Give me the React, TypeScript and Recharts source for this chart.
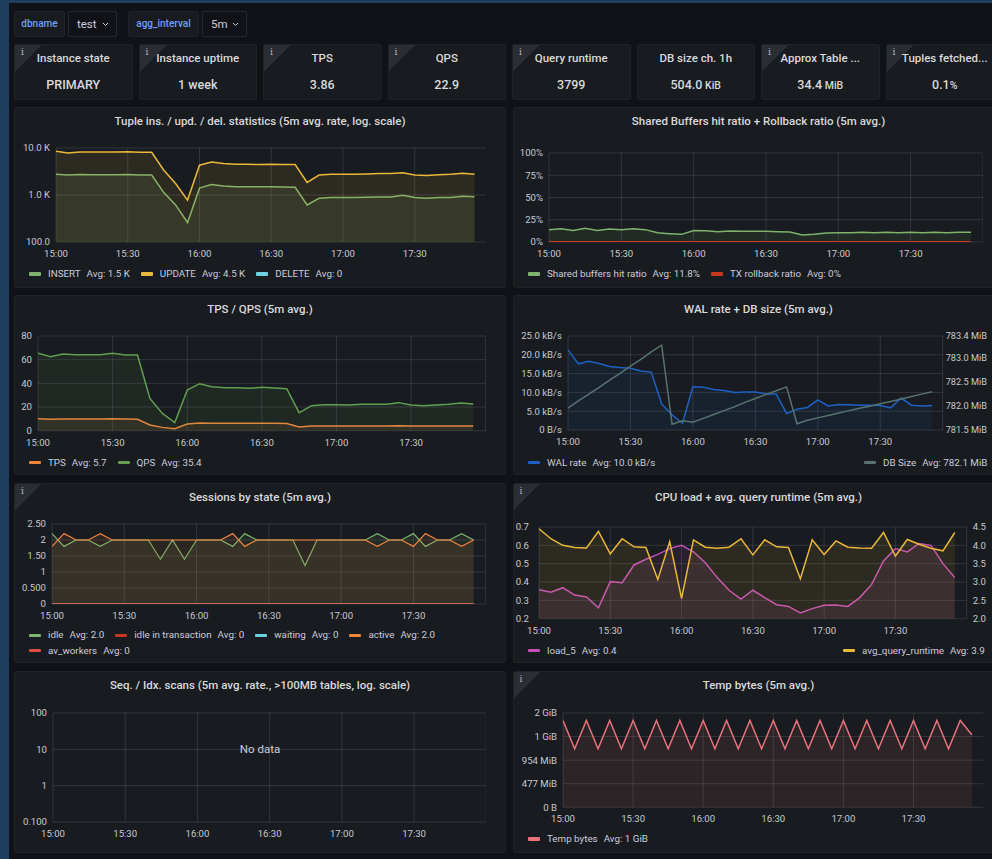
import React from 'react';
import { ComposedChart, Area, Line, XAxis, YAxis, CartesianGrid } from 'recharts';

const FONT = 'Roboto, "Noto Sans", "DejaVu Sans", sans-serif';
const PAGE_BG = '#111217';
const PANEL_BG = '#181b1f';
const EDGE_BLUE = '#1f3e5c';
const GRID = 'rgba(204,204,220,0.15)';
const TEXT = '#ccccdc';
const TITLE = '#d8d9da';
const TICK = '#c8c9d3';

// ---------- variables row ----------
const variableNames = ['dbname', 'agg_interval'];
const variableValues = ['test', '5m'];

// ---------- stat row ----------
const statTitles = ['Instance state', 'Instance uptime', 'TPS', 'QPS', 'Query runtime', 'DB size ch. 1h', 'Approx Table ...', 'Tuples fetched...'];
const statValues = ['PRIMARY', '1 week', '3.86', '22.9', '3799', '504.0', '34.4', '0.1'];
const statUnits = ['', '', '', '', '', ' KiB', ' MiB', '%'];
const statInfo = [true, true, true, true, true, false, true, true];

// ---------- time axis ----------
const timeMinutes = [0, 5, 10, 15, 20, 25, 30, 35, 40, 45, 50, 55, 60, 65, 70, 75, 80, 85, 90, 95, 100, 105, 110, 115, 120, 125, 130, 135, 140, 145, 150, 155, 160, 165, 170, 175];
const xTicks = [0, 30, 60, 90, 120, 150];
const xTickLabels = ['15:00', '15:30', '16:00', '16:30', '17:00', '17:30'];

// ---------- panel titles ----------
const panelTitles = [
  'Tuple ins. / upd. / del. statistics (5m avg. rate, log. scale)',
  'Shared Buffers hit ratio + Rollback ratio (5m avg.)',
  'TPS / QPS (5m avg.)',
  'WAL rate + DB size (5m avg.)',
  'Sessions by state (5m avg.)',
  'CPU load + avg. query runtime (5m avg.)',
  'Seq. / Idx. scans (5m avg. rate., >100MB tables, log. scale)',
  'Temp bytes (5m avg.)',
];

// ---------- tuple stats ----------
const insertVals = [2780, 2650, 2720, 2700, 2700, 2700, 2720, 2680, 2650, 1140, 615, 260, 1400, 1680, 1550, 1500, 1500, 1490, 1500, 1480, 1460, 615, 850, 890, 890, 880, 900, 910, 910, 990, 880, 850, 880, 890, 940, 920];
const updateVals = [8500, 7800, 8200, 8200, 8200, 8200, 8300, 8100, 8100, 3400, 1760, 780, 4300, 5060, 4660, 4520, 4520, 4450, 4520, 4450, 4450, 1850, 2650, 2780, 2780, 2750, 2800, 2850, 2850, 2970, 2650, 2600, 2700, 2750, 2900, 2780];
const deleteVals = [0, 0, 0, 0, 0, 0, 0, 0, 0, 0, 0, 0, 0, 0, 0, 0, 0, 0, 0, 0, 0, 0, 0, 0, 0, 0, 0, 0, 0, 0, 0, 0, 0, 0, 0, 0];
const tupleTicks = [100, 1000, 10000];
const tupleTickLabels = ['100.0', '1.0 K', '10.0 K'];
const tupleLegendNames = ['INSERT', 'UPDATE', 'DELETE'];
const tupleLegendAvg = ['Avg: 1.5 K', 'Avg: 4.5 K', 'Avg: 0'];

// ---------- shared buffers ----------
const hitRatioVals = [13.9, 15.0, 13.0, 15.4, 13.0, 14.6, 13.9, 15.0, 13.9, 10.5, 9.4, 8.6, 13.0, 12.7, 11.6, 12.4, 12.0, 12.0, 12.0, 11.6, 11.2, 7.9, 8.6, 10.1, 10.5, 10.5, 10.9, 10.5, 10.9, 10.5, 10.9, 10.5, 10.9, 10.5, 10.9, 10.9];
const rollbackVals = [0, 0, 0, 0, 0, 0, 0, 0, 0, 0, 0, 0, 0, 0, 0, 0, 0, 0, 0, 0, 0, 0, 0, 0, 0, 0, 0, 0, 0, 0, 0, 0, 0, 0, 0, 0];
const pctTicks = [0, 25, 50, 75, 100];
const sharedLegendNames = ['Shared buffers hit ratio', 'TX rollback ratio'];
const sharedLegendAvg = ['Avg: 11.8%', 'Avg: 0%'];

// ---------- TPS / QPS ----------
const tpsVals = [10.1, 9.6, 9.9, 9.9, 9.9, 9.9, 10.0, 9.8, 9.6, 4.8, 2.8, 1.7, 5.6, 6.5, 6.2, 6.2, 6.2, 6.2, 6.2, 6.2, 6.1, 3.1, 3.9, 3.9, 3.9, 3.9, 3.9, 4.0, 4.0, 4.2, 3.9, 3.9, 3.9, 3.9, 3.9, 3.9];
const qpsVals = [65.4, 62.5, 64.8, 64.2, 64.2, 64.2, 65.4, 64.0, 64.0, 27.3, 14.6, 6.8, 34.4, 39.7, 37.2, 36.3, 36.3, 35.8, 36.6, 36.0, 35.5, 15.2, 21.1, 22.0, 22.0, 21.7, 22.3, 22.3, 22.3, 23.7, 21.7, 21.1, 21.7, 22.3, 23.4, 22.5];
const tpsTicks = [0, 20, 40, 60, 80];
const tpsLegendNames = ['TPS', 'QPS'];
const tpsLegendAvg = ['Avg: 5.7', 'Avg: 35.4'];

// ---------- WAL / DB size ----------
const walVals = [21.3, 17.6, 18.3, 17.7, 16.9, 16.6, 16.4, 15.7, 15.4, 6.9, 4.0, 1.8, 11.5, 11.4, 10.8, 10.5, 10.0, 10.1, 10.1, 9.6, 9.6, 4.4, 5.5, 6.0, 8.0, 6.4, 6.8, 6.7, 6.6, 6.6, 6.5, 5.9, 8.5, 6.6, 6.4, 6.5];
const dbSizeVals = [781.95, 782.10, 782.24, 782.38, 782.53, 782.67, 782.82, 782.96, 783.11, 783.25, 781.62, 781.69, 781.66, 781.74, 781.82, 781.90, 781.98, 782.07, 782.15, 782.23, 782.31, 782.39, 781.63, 781.70, 781.75, 781.80, 781.85, 781.90, 781.95, 781.99, 782.04, 782.09, 782.14, 782.19, 782.24, 782.29];
const walTicks = [0, 5, 10, 15, 20, 25];
const dbTicks = [781.5, 782.0, 782.5, 783.0, 783.44];
const walLegendNames = ['WAL rate', 'DB Size'];
const walLegendAvg = ['Avg: 10.0 kB/s', 'Avg: 782.1 MiB'];

// ---------- sessions ----------
const idleVals = [2.2, 1.8, 2, 2, 1.8, 2, 2, 2, 2, 1.4, 2, 1.4, 2, 2, 2, 1.8, 2.2, 2, 2, 2, 2, 1.2, 2, 2, 2, 2, 2, 2.2, 2, 2, 2.2, 1.8, 2, 2, 2.2, 2];
const idleTxVals = [0, 0, 0, 0, 0, 0, 0, 0, 0, 0, 0, 0, 0, 0, 0, 0, 0, 0, 0, 0, 0, 0, 0, 0, 0, 0, 0, 0, 0, 0, 0, 0, 0, 0, 0, 0];
const waitingVals = [0, 0, 0, 0, 0, 0, 0, 0, 0, 0, 0, 0, 0, 0, 0, 0, 0, 0, 0, 0, 0, 0, 0, 0, 0, 0, 0, 0, 0, 0, 0, 0, 0, 0, 0, 0];
const activeVals = [1.8, 2.2, 2, 2, 2.2, 2, 2, 2, 2, 2, 2, 2, 2, 2, 2, 2.2, 1.8, 2, 2, 2, 2, 2, 2, 2, 2, 2, 2, 1.8, 2, 2, 1.8, 2.2, 2, 2, 1.8, 2];
const avWorkersVals = [0, 0, 0, 0, 0, 0, 0, 0, 0, 0, 0, 0, 0, 0, 0, 0, 0, 0, 0, 0, 0, 0, 0, 0, 0, 0, 0, 0, 0, 0, 0, 0, 0, 0, 0, 0];
const sessionTicks = [0, 0.5, 1, 1.5, 2, 2.5];
const sessionTickLabels = ['0', '0.500', '1', '1.50', '2', '2.50'];
const sessionLegendNames = ['idle', 'idle in transaction', 'waiting', 'active', 'av_workers'];
const sessionLegendAvg = ['Avg: 2.0', 'Avg: 0', 'Avg: 0', 'Avg: 2.0', 'Avg: 0'];

// ---------- CPU load ----------
const load5Vals = [0.358, 0.344, 0.369, 0.329, 0.318, 0.26, 0.402, 0.396, 0.493, 0.524, 0.551, 0.582, 0.6, 0.565, 0.505, 0.424, 0.355, 0.307, 0.355, 0.315, 0.276, 0.267, 0.231, 0.255, 0.273, 0.275, 0.267, 0.315, 0.387, 0.515, 0.582, 0.564, 0.61, 0.6, 0.5, 0.424];
const runtimeVals = [4.45, 4.18, 4.0, 3.94, 3.93, 4.38, 3.77, 4.18, 3.96, 3.94, 3.07, 4.1, 2.55, 4.15, 3.95, 3.92, 3.95, 4.18, 3.74, 4.15, 3.96, 3.94, 3.09, 4.15, 3.75, 4.12, 3.95, 3.93, 3.92, 4.35, 3.71, 4.16, 4.03, 3.92, 3.85, 4.35];
const loadTicks = [0.2, 0.3, 0.4, 0.5, 0.6, 0.7];
const runtimeTicks = [2.0, 2.5, 3.0, 3.5, 4.0, 4.5];
const cpuLegendNames = ['load_5', 'avg_query_runtime'];
const cpuLegendAvg = ['Avg: 0.4', 'Avg: 3.9'];

// ---------- seq / idx scans (no data) ----------
const scanTicks = [0.1, 1, 10, 100];
const scanTickLabels = ['0.100', '1', '10', '100'];

// ---------- temp bytes ----------
const tempBytesVals = [1840000000, 1240000000, 1840000000, 1240000000, 1840000000, 1240000000, 1840000000, 1240000000, 1840000000, 1240000000, 1840000000, 1240000000, 1840000000, 1240000000, 1840000000, 1240000000, 1840000000, 1240000000, 1840000000, 1240000000, 1840000000, 1240000000, 1840000000, 1240000000, 1840000000, 1240000000, 1840000000, 1240000000, 1840000000, 1240000000, 1840000000, 1240000000, 1840000000, 1240000000, 1840000000, 1540000000];
const tempTicks = [0, 500000000, 1000000000, 1500000000, 2000000000];
const tempLegendNames = ['Temp bytes'];
const tempLegendAvg = ['Avg: 1 GiB'];

// ---------- colours ----------
const C_GREEN = '#7eb26d';
const C_YELLOW = '#eab839';
const C_CYAN = '#6ed0e0';
const C_ORANGE = '#ef843c';
const C_DKGREEN = '#629e51';
const C_RED = '#c4391d';
const C_BLUE = '#1f60c4';
const C_GRAYTEAL = '#58736f';
const C_PURPLE = '#c44fb8';
const C_SALMON = '#e8727b';
const C_AVRED = '#e24d42';

// ---------- helpers ----------
const fmtTime = (v: number) => {
  const i = xTicks.indexOf(v);
  return i >= 0 ? xTickLabels[i] : '';
};
const fromList = (ticks: number[], labels: string[]) => (v: number) => {
  const i = ticks.findIndex((t) => Math.abs(t - v) < 1e-9);
  return i >= 0 ? labels[i] : String(v);
};
const fmtBytes = (v: number) => {
  if (v === 0) return '0 B';
  const units = ['B', 'KiB', 'MiB', 'GiB'];
  let x = v;
  let i = 0;
  while (x >= 1024 && i < 3) {
    x /= 1024;
    i++;
  }
  return `${Math.round(x)} ${units[i]}`;
};

const tickStyle = { fill: TICK, fontSize: 9.6, fontFamily: FONT };

type FrameIn = { left: number; top: number; right: number; bottom: number; lw: number; rw?: number };
function frame(f: FrameIn) {
  const rw = f.rw ?? 0;
  const mt = 6;
  const xh = 24;
  return {
    x: f.left - f.lw,
    y: f.top - mt,
    width: f.lw + (f.right - f.left) + rw,
    height: mt + (f.bottom - f.top) + xh,
    margin: { top: mt, right: 0, bottom: 0, left: 0 },
    lw: f.lw,
    rw,
    xh,
  };
}

function timeAxis(xh: number) {
  return (
    <XAxis
      dataKey="t"
      type="number"
      domain={[0, 180]}
      ticks={xTicks}
      tickFormatter={fmtTime}
      interval={0}
      axisLine={false}
      tickLine={false}
      tick={tickStyle}
      height={xh}
      tickSize={6}
      tickMargin={2}
      allowDataOverflow
    />
  );
}

function ChartBox({ fr, children }: { fr: ReturnType<typeof frame>; children: React.ReactNode }) {
  return (
    <div style={{ position: 'absolute', left: fr.x, top: fr.y, width: fr.width, height: fr.height }}>
      {children}
    </div>
  );
}

function InfoCorner() {
  return (
    <div
      style={{
        position: 'absolute',
        left: 0,
        top: 0,
        width: 26,
        height: 26,
        background: 'linear-gradient(135deg, #2a2d33 0%, #2a2d33 50%, rgba(0,0,0,0) 50%)',
      }}
    >
      <span
        style={{
          position: 'absolute',
          left: 6,
          top: 2,
          fontSize: 9,
          color: '#b8b9c3',
          fontFamily: '"DejaVu Serif", serif',
        }}
      >
        i
      </span>
    </div>
  );
}

function Panel({ x, y, w, h, title, info }: { x: number; y: number; w: number; h: number; title?: string; info?: boolean }) {
  return (
    <div
      style={{
        position: 'absolute',
        left: x,
        top: y,
        width: w,
        height: h,
        background: PANEL_BG,
        border: '1px solid #202226',
        borderRadius: 2,
        boxSizing: 'border-box',
        overflow: 'hidden',
      }}
    >
      {info && <InfoCorner />}
      {title && (
        <div
          style={{
            position: 'absolute',
            left: 0,
            right: 0,
            top: 5,
            height: 16,
            lineHeight: '16px',
            textAlign: 'center',
            fontSize: 11.5,
            fontWeight: 500,
            color: TITLE,
            whiteSpace: 'nowrap',
          }}
        >
          {title}
        </div>
      )}
    </div>
  );
}

type LegendItem = { color: string; name: string; avg: string };
function LegendRow({ x, y, items, width }: { x: number; y: number; items: LegendItem[]; width?: number }) {
  return (
    <div
      style={{
        position: 'absolute',
        left: x,
        top: y - 7,
        width: width ?? 470,
        display: 'flex',
        flexWrap: 'wrap',
        rowGap: 1.4,
        fontSize: 9.8,
        color: TEXT,
        lineHeight: '14px',
      }}
    >
      {items.map((it, idx) => (
        <div key={it.name} style={{ display: 'flex', alignItems: 'center', marginRight: idx < items.length - 1 ? 11 : 0, whiteSpace: 'nowrap' }}>
          <span style={{ display: 'inline-block', width: 12, height: 3.5, background: it.color, borderRadius: 1, marginRight: 7 }} />
          <span>{it.name}</span>
          <span style={{ marginLeft: 6 }}>{it.avg}</span>
        </div>
      ))}
    </div>
  );
}

function Chevron({ x, y }: { x: number; y: number }) {
  return (
    <svg style={{ position: 'absolute', left: x, top: y }} width={7} height={5} viewBox="0 0 7 5">
      <path d="M1 1 L3.5 3.5 L6 1" stroke="#ccccdc" strokeWidth={1} fill="none" />
    </svg>
  );
}

export default function App() {
  // data tables
  const tupleRows = timeMinutes.map((t, i) => ({ t, ins: insertVals[i], upd: updateVals[i], del: deleteVals[i] > 0 ? deleteVals[i] : null }));
  const sharedRows = timeMinutes.map((t, i) => ({ t, hit: hitRatioVals[i], rb: rollbackVals[i] }));
  const tpsRows = timeMinutes.map((t, i) => ({ t, tps: tpsVals[i], qps: qpsVals[i] }));
  const walRows = timeMinutes.map((t, i) => ({ t, wal: walVals[i], db: dbSizeVals[i] }));
  const sessRows = timeMinutes.map((t, i) => ({ t, idle: idleVals[i], idleTx: idleTxVals[i], waiting: waitingVals[i], active: activeVals[i], av: avWorkersVals[i] }));
  const cpuRows = timeMinutes.map((t, i) => ({ t, load: load5Vals[i], rt: runtimeVals[i] }));
  const tempRows = timeMinutes.map((t, i) => ({ t, temp: tempBytesVals[i] }));

  const f1 = frame({ left: 55.5, top: 147.7, right: 486, bottom: 241.7, lw: 48 });
  const f2 = frame({ left: 549, top: 152.7, right: 983, bottom: 241.7, lw: 40 });
  const f3 = frame({ left: 38.3, top: 336, right: 486, bottom: 430.7, lw: 30 });
  const f4 = frame({ left: 568.3, top: 336, right: 943, bottom: 430, lw: 62, rw: 70 });
  const f5 = frame({ left: 52.3, top: 524, right: 486, bottom: 604, lw: 44 });
  const f6 = frame({ left: 539.3, top: 527.3, right: 967, bottom: 619, lw: 30, rw: 24 });
  const f7 = frame({ left: 52.7, top: 713, right: 486, bottom: 822, lw: 44 });
  const f8 = frame({ left: 562.7, top: 713, right: 983.3, bottom: 807.3, lw: 62 });

  const yCommon = { axisLine: false, tickLine: false, tick: tickStyle, tickSize: 4, tickMargin: 2, allowDataOverflow: true, type: 'number' as const, interval: 0 as const };

  const statLeft = (i: number) => 14 + i * 124.5;

  return (
    <div style={{ position: 'relative', width: 992, height: 859, overflow: 'hidden', background: PAGE_BG, fontFamily: FONT }}>
      <style>{`html,body{margin:0;padding:0;background:${PAGE_BG};overflow:hidden}`}</style>
      <div style={{ position: 'absolute', left: 0, top: 0, width: 992, height: 3, background: EDGE_BLUE }} />
      <div style={{ position: 'absolute', left: 0, top: 0, width: 9, height: 859, background: EDGE_BLUE }} />

      {/* variables */}
      {[{ x: 14, lw: 51, vx: 68, vw: 49 }, { x: 128, lw: 71, vx: 202, vw: 45 }].map((b, i) => (
        <React.Fragment key={variableNames[i]}>
          <div
            style={{
              position: 'absolute', left: b.x, top: 11, width: b.lw, height: 26, boxSizing: 'border-box',
              background: PANEL_BG, border: '1px solid #202226', borderRadius: 2,
              color: '#6e9fff', fontSize: 10, fontWeight: 500, lineHeight: '24px', textAlign: 'center',
            }}
          >
            {variableNames[i]}
          </div>
          <div
            style={{
              position: 'absolute', left: b.vx, top: 11, width: b.vw, height: 26, boxSizing: 'border-box',
              background: PAGE_BG, border: '1px solid #25282d', borderRadius: 2,
              color: TEXT, fontSize: 11.5, lineHeight: '24px', paddingLeft: 8,
            }}
          >
            {variableValues[i]}
          </div>
          <Chevron x={b.vx + b.vw - 15} y={22} />
        </React.Fragment>
      ))}

      {/* stats */}
      {statTitles.map((s, i) => (
        <div
          key={s}
          style={{
            position: 'absolute', left: statLeft(i), top: 43.5, width: 118.5, height: 56, boxSizing: 'border-box',
            background: PANEL_BG, border: '1px solid #202226', borderRadius: 2, overflow: 'hidden',
          }}
        >
          {statInfo[i] && <InfoCorner />}
          <div style={{ position: 'absolute', left: 0, right: 0, top: 5, lineHeight: '16px', textAlign: 'center', fontSize: 11.5, fontWeight: 500, color: TITLE, whiteSpace: 'nowrap' }}>
            {s}
          </div>
          <div style={{ position: 'absolute', left: 0, right: 0, top: 31, lineHeight: '18px', textAlign: 'center', fontSize: 12.5, fontWeight: 500, color: TITLE, whiteSpace: 'nowrap' }}>
            {statValues[i]}
            <span style={{ fontSize: 10.5 }}>{statUnits[i]}</span>
          </div>
        </div>
      ))}

      {/* panels */}
      <Panel x={14} y={107} w={492} h={181} title={panelTitles[0]} />
      <Panel x={512.5} y={107} w={492} h={181} title={panelTitles[1]} />
      <Panel x={14} y={295} w={492} h={180} title={panelTitles[2]} />
      <Panel x={512.5} y={295} w={492} h={180} title={panelTitles[3]} />
      <Panel x={14} y={483} w={492} h={180} title={panelTitles[4]} info />
      <Panel x={512.5} y={483} w={492} h={180} title={panelTitles[5]} info />
      <Panel x={14} y={671} w={492} h={182} title={panelTitles[6]} />
      <Panel x={512.5} y={671} w={492} h={182} title={panelTitles[7]} info />

      {/* 1: tuple stats */}
      <ChartBox fr={f1}>
        <ComposedChart width={f1.width} height={f1.height} margin={f1.margin} data={tupleRows}>
          <CartesianGrid stroke={GRID} />
          {timeAxis(f1.xh)}
          <YAxis {...yCommon} scale="log" domain={[100, 10000]} ticks={tupleTicks} tickFormatter={fromList(tupleTicks, tupleTickLabels)} width={f1.lw} />
          <Area type="linear" dataKey="ins" stroke={C_GREEN} strokeWidth={1.5} fill={C_GREEN} fillOpacity={0.1} baseValue={100} dot={false} isAnimationActive={false} />
          <Area type="linear" dataKey="upd" stroke={C_YELLOW} strokeWidth={1.5} fill={C_YELLOW} fillOpacity={0.1} baseValue={100} dot={false} isAnimationActive={false} />
          <Line type="linear" dataKey="del" stroke={C_CYAN} strokeWidth={1.5} dot={false} isAnimationActive={false} />
        </ComposedChart>
      </ChartBox>
      <LegendRow x={29} y={274} items={tupleLegendNames.map((n, i) => ({ name: n, avg: tupleLegendAvg[i], color: [C_GREEN, C_YELLOW, C_CYAN][i] }))} />

      {/* 2: shared buffers */}
      <ChartBox fr={f2}>
        <ComposedChart width={f2.width} height={f2.height} margin={f2.margin} data={sharedRows}>
          <CartesianGrid stroke={GRID} />
          {timeAxis(f2.xh)}
          <YAxis {...yCommon} domain={[0, 100]} ticks={pctTicks} tickFormatter={(v: number) => `${v}%`} width={f2.lw} />
          <Area type="linear" dataKey="hit" stroke={C_GREEN} strokeWidth={1.5} fill={C_GREEN} fillOpacity={0.1} dot={false} isAnimationActive={false} />
          <Line type="linear" dataKey="rb" stroke={C_RED} strokeWidth={2} dot={false} isAnimationActive={false} />
        </ComposedChart>
      </ChartBox>
      <LegendRow x={528} y={274} items={sharedLegendNames.map((n, i) => ({ name: n, avg: sharedLegendAvg[i], color: [C_GREEN, C_RED][i] }))} />

      {/* 3: TPS / QPS */}
      <ChartBox fr={f3}>
        <ComposedChart width={f3.width} height={f3.height} margin={f3.margin} data={tpsRows}>
          <CartesianGrid stroke={GRID} />
          {timeAxis(f3.xh)}
          <YAxis {...yCommon} domain={[0, 80]} ticks={tpsTicks} width={f3.lw} />
          <Area type="linear" dataKey="tps" stroke={C_ORANGE} strokeWidth={1.5} fill={C_ORANGE} fillOpacity={0.1} dot={false} isAnimationActive={false} />
          <Area type="linear" dataKey="qps" stroke={C_DKGREEN} strokeWidth={1.5} fill={C_DKGREEN} fillOpacity={0.1} dot={false} isAnimationActive={false} />
        </ComposedChart>
      </ChartBox>
      <LegendRow x={29} y={462.7} items={tpsLegendNames.map((n, i) => ({ name: n, avg: tpsLegendAvg[i], color: [C_ORANGE, C_DKGREEN][i] }))} />

      {/* 4: WAL + DB size */}
      <ChartBox fr={f4}>
        <ComposedChart width={f4.width} height={f4.height} margin={f4.margin} data={walRows}>
          <CartesianGrid stroke={GRID} yAxisId="left" />
          {timeAxis(f4.xh)}
          <YAxis {...yCommon} yAxisId="left" domain={[0, 25]} ticks={walTicks} tickFormatter={(v: number) => (v === 0 ? '0 B/s' : `${v.toFixed(1)} kB/s`)} width={f4.lw} />
          <YAxis {...yCommon} yAxisId="right" orientation="right" domain={[781.5, 783.44]} ticks={dbTicks} tickFormatter={(v: number) => `${v.toFixed(1)} MiB`} width={f4.rw} tickSize={1} tickMargin={2} tick={{ ...tickStyle, fontSize: 9.2 }} />
          <Area yAxisId="left" type="linear" dataKey="wal" stroke={C_BLUE} strokeWidth={1.5} fill={C_BLUE} fillOpacity={0.1} dot={false} isAnimationActive={false} />
          <Line yAxisId="right" type="linear" dataKey="db" stroke={C_GRAYTEAL} strokeWidth={1.5} dot={false} isAnimationActive={false} />
        </ComposedChart>
      </ChartBox>
      <LegendRow x={528} y={462.7} items={[{ name: walLegendNames[0], avg: walLegendAvg[0], color: C_BLUE }]} />
      <LegendRow x={864} y={462.7} width={124} items={[{ name: walLegendNames[1], avg: walLegendAvg[1], color: C_GRAYTEAL }]} />

      {/* 5: sessions */}
      <ChartBox fr={f5}>
        <ComposedChart width={f5.width} height={f5.height} margin={f5.margin} data={sessRows}>
          <CartesianGrid stroke={GRID} />
          {timeAxis(f5.xh)}
          <YAxis {...yCommon} domain={[0, 2.5]} ticks={sessionTicks} tickFormatter={fromList(sessionTicks, sessionTickLabels)} width={f5.lw} />
          <Area type="linear" dataKey="idle" stroke={C_GREEN} strokeWidth={1.2} fill={C_GREEN} fillOpacity={0.1} dot={false} isAnimationActive={false} />
          <Line type="linear" dataKey="idleTx" stroke={C_RED} strokeWidth={1.5} dot={false} isAnimationActive={false} />
          <Line type="linear" dataKey="waiting" stroke={C_CYAN} strokeWidth={1.5} dot={false} isAnimationActive={false} />
          <Area type="linear" dataKey="active" stroke={C_ORANGE} strokeWidth={1.2} fill={C_ORANGE} fillOpacity={0.1} dot={false} isAnimationActive={false} />
          <Line type="linear" dataKey="av" stroke={C_AVRED} strokeWidth={1.5} dot={false} isAnimationActive={false} />
        </ComposedChart>
      </ChartBox>
      <LegendRow x={29} y={635.3} width={460} items={sessionLegendNames.map((n, i) => ({ name: n, avg: sessionLegendAvg[i], color: [C_GREEN, C_RED, C_CYAN, C_ORANGE, C_AVRED][i] }))} />

      {/* 6: CPU load */}
      <ChartBox fr={f6}>
        <ComposedChart width={f6.width} height={f6.height} margin={f6.margin} data={cpuRows}>
          <CartesianGrid stroke={GRID} yAxisId="left" />
          {timeAxis(f6.xh)}
          <YAxis {...yCommon} yAxisId="left" domain={[0.2, 0.7]} ticks={loadTicks} tickFormatter={(v: number) => v.toFixed(1)} width={f6.lw} tickSize={8} />
          <YAxis {...yCommon} yAxisId="right" orientation="right" domain={[2, 4.5]} ticks={runtimeTicks} tickFormatter={(v: number) => v.toFixed(1)} width={f6.rw} />
          <Area yAxisId="left" type="linear" dataKey="load" stroke={C_PURPLE} strokeWidth={1.5} fill={C_PURPLE} fillOpacity={0.1} baseValue={0.2} dot={false} isAnimationActive={false} />
          <Area yAxisId="right" type="linear" dataKey="rt" stroke={C_YELLOW} strokeWidth={1.5} fill={C_YELLOW} fillOpacity={0.1} baseValue={2} dot={false} isAnimationActive={false} />
        </ComposedChart>
      </ChartBox>
      <LegendRow x={528} y={650.7} items={[{ name: cpuLegendNames[0], avg: cpuLegendAvg[0], color: C_PURPLE }]} />
      <LegendRow x={843} y={650.7} width={145} items={[{ name: cpuLegendNames[1], avg: cpuLegendAvg[1], color: C_YELLOW }]} />

      {/* 7: seq / idx scans - no data */}
      <ChartBox fr={f7}>
        <ComposedChart width={f7.width} height={f7.height} margin={f7.margin} data={[]}>
          <CartesianGrid stroke={GRID} />
          {timeAxis(f7.xh)}
          <YAxis {...yCommon} scale="log" domain={[0.1, 100]} ticks={scanTicks} tickFormatter={fromList(scanTicks, scanTickLabels)} width={f7.lw} />
        </ComposedChart>
      </ChartBox>
      <div style={{ position: 'absolute', left: 210, top: 741, width: 100, textAlign: 'center', fontSize: 11.5, color: TEXT, lineHeight: '16px' }}>No data</div>

      {/* 8: temp bytes */}
      <ChartBox fr={f8}>
        <ComposedChart width={f8.width} height={f8.height} margin={f8.margin} data={tempRows}>
          <CartesianGrid stroke={GRID} />
          {timeAxis(f8.xh)}
          <YAxis {...yCommon} domain={[0, 2000000000]} ticks={tempTicks} tickFormatter={fmtBytes} width={f8.lw} />
          <Area type="linear" dataKey="temp" stroke={C_SALMON} strokeWidth={1.5} fill={C_SALMON} fillOpacity={0.1} dot={false} isAnimationActive={false} />
        </ComposedChart>
      </ChartBox>
      <LegendRow x={528} y={839} items={tempLegendNames.map((n, i) => ({ name: n, avg: tempLegendAvg[i], color: C_SALMON }))} />
    </div>
  );
}
